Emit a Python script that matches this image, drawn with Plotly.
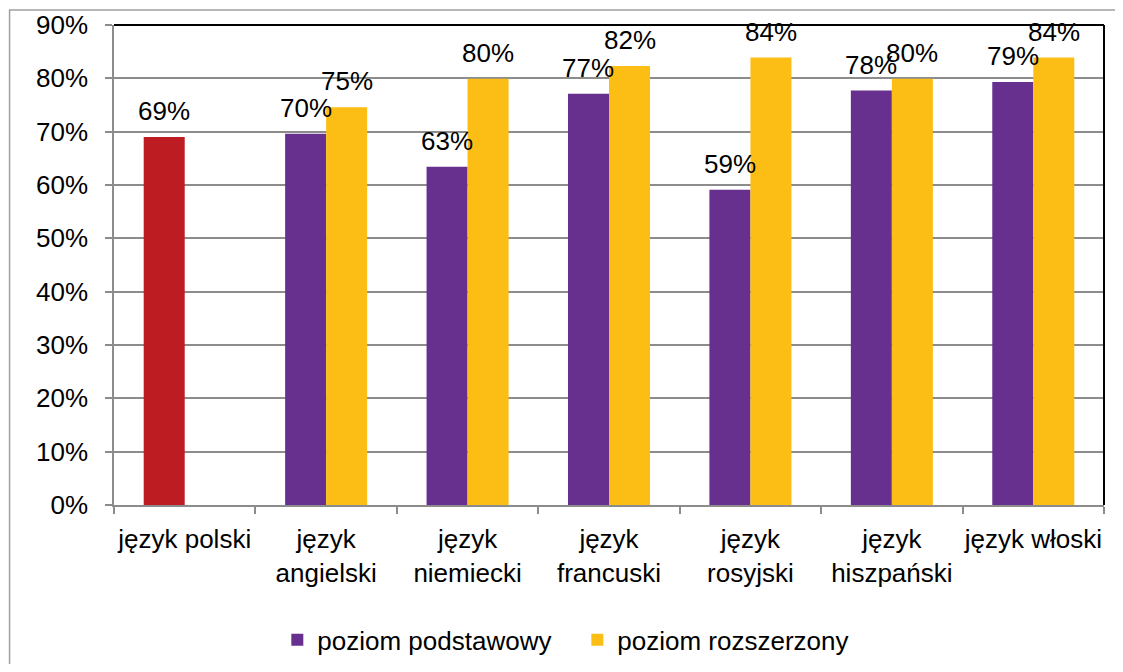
import plotly.graph_objects as go

categories = ["język polski", "język<br>angielski", "język<br>niemiecki", "język<br>francuski",
              "język<br>rosyjski", "język<br>hiszpański", "język włoski"]
podstawowy = [69.0, 69.6, 63.4, 77.1, 59.1, 77.7, 79.3]
rozszerzony = [None, 74.6, 79.9, 82.3, 83.9, 79.9, 83.9]
yticks = [0, 10, 20, 30, 40, 50, 60, 70, 80, 90]
ytick_labels = [f"{v}%" for v in yticks]

FONT = "Liberation Sans, Arial, sans-serif"
FS = 26
BARGAP = 0.42
RED = "#BD1C22"
PURPLE = "#67308F"
YELLOW = "#FCBD15"

fig = go.Figure()
# Polish (only one level) drawn in red, sharing the "podstawowy" slot
fig.add_trace(go.Bar(name="poziom podstawowy", x=categories[:1], y=podstawowy[:1],
                     offsetgroup="p", showlegend=False,
                     marker=dict(color=RED, line=dict(width=0))))
fig.add_trace(go.Bar(name="poziom podstawowy", x=categories[1:], y=podstawowy[1:],
                     offsetgroup="p", marker=dict(color=PURPLE, line=dict(width=0))))
fig.add_trace(go.Bar(name="poziom rozszerzony", x=categories, y=rozszerzony,
                     offsetgroup="r", marker=dict(color=YELLOW, line=dict(width=0))))

half = (1 - BARGAP) / 4
annotations = []
for i, (p, r) in enumerate(zip(podstawowy, rozszerzony)):
    for val, off in ((p, -half), (r, half)):
        if val is None:
            continue
        annotations.append(dict(x=i + off, y=val, xref="x", yref="y", text=f"{round(val)}%",
                                showarrow=False, yshift=26, xanchor="center", yanchor="middle",
                                font=dict(family=FONT, size=FS, color="#000000")))

# page body has an 8px margin: figure is sized/placed to compensate
fig.update_layout(
    width=1115, height=656,
    margin=dict(l=106, r=19, t=17, b=159, autoexpand=False),
    paper_bgcolor="white", plot_bgcolor="white",
    barmode="group", bargap=BARGAP, bargroupgap=0,
    font=dict(family=FONT, size=FS, color="#000000"),
    annotations=annotations,
    showlegend=True,
    legend=dict(orientation="h", x=0.468, y=-0.281, xanchor="center", yanchor="middle",
                font=dict(family=FONT, size=FS), itemwidth=30, traceorder="normal",
                entrywidth=255, entrywidthmode="pixels"),
    shapes=[
        dict(type="rect", xref="paper", yref="paper", x0=-0.1055, y0=-0.5, x1=1.2, y1=1.03125,
             line=dict(color="#A0A0A0", width=1.5), fillcolor="rgba(0,0,0,0)", layer="below"),
        dict(type="line", xref="paper", yref="paper", x0=0, x1=1, y0=1, y1=1,
             line=dict(color="#000000", width=2)),
        dict(type="line", xref="paper", yref="paper", x0=1, x1=1, y0=0, y1=1,
             line=dict(color="#000000", width=2)),
    ],
)
fig.update_xaxes(type="category", categoryorder="array", categoryarray=categories,
                 showline=True, linecolor="#8C8C8C", linewidth=1.5,
                 ticks="outside", tickson="boundaries", ticklen=7, tickcolor="#8C8C8C",
                 tickwidth=1.5, showgrid=False, tickangle=0, automargin=False,
                 ticklabelstandoff=10, tickfont=dict(family=FONT, size=FS))
fig.update_yaxes(range=[0, 90], tickvals=yticks, ticktext=ytick_labels, showline=True,
                 linecolor="#8C8C8C", linewidth=1.5, ticks="outside", ticklen=7,
                 tickcolor="#8C8C8C", tickwidth=1.5, showgrid=True, gridcolor="#8C8C8C",
                 gridwidth=1.5, zeroline=False, ticklabelstandoff=12, automargin=False,
                 tickfont=dict(family=FONT, size=FS))

fig.write_html("out.html")
